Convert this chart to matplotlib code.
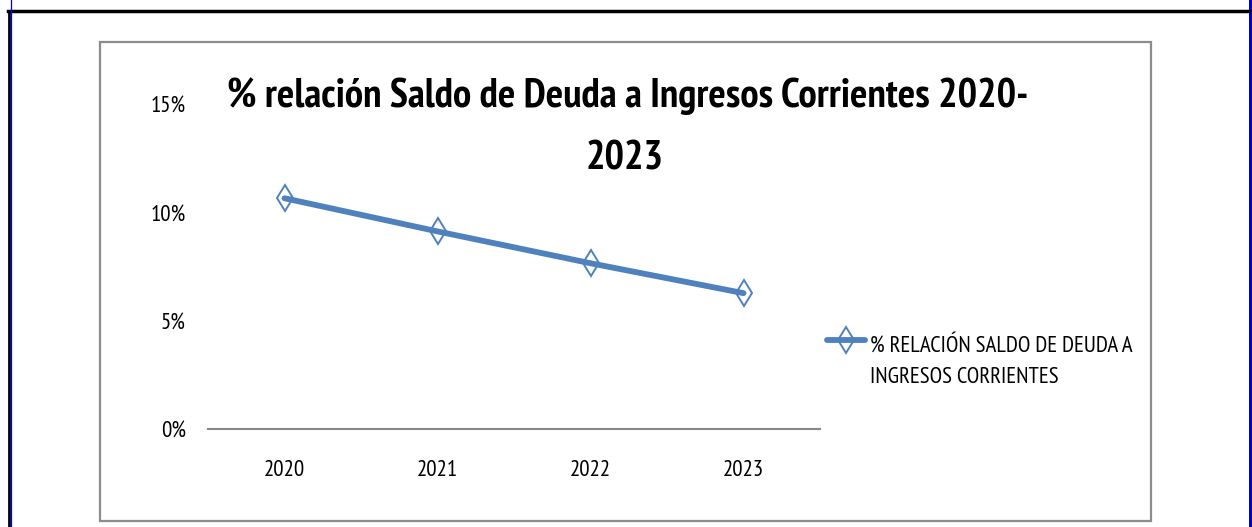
import matplotlib
matplotlib.use("Agg")
import matplotlib.pyplot as plt
from matplotlib.lines import Line2D
from matplotlib.patches import Rectangle

# data
years = ["2020", "2021", "2022", "2023"]
ratio = [0.1065, 0.0912, 0.0765, 0.0627]
y_ticks = [0.0, 0.05, 0.10, 0.15]
y_labels = ["0%", "5%", "10%", "15%"]
series_lines = ["% RELACIÓN SALDO DE DEUDA A", "INGRESOS CORRIENTES"]
title_lines = ["% relación Saldo de Deuda a Ingresos Corrientes 2020-", "2023"]

plt.rcParams["font.family"] = ["PT Sans Narrow", "DejaVu Sans"]

W, H = 1252, 527
fig = plt.figure(figsize=(W / 100, H / 100), dpi=100, facecolor="w")


def fx(px):
    return px / W


def fy(py):
    return 1 - py / H


# outer frame (cropped screenshot edges)
fig.add_artist(Line2D([fx(8), fx(1249)], [fy(11), fy(11)], color="black", lw=2.5))
fig.add_artist(Line2D([fx(9), fx(9)], [fy(11), 0], color="black", lw=2))
fig.add_artist(Line2D([fx(10.5), fx(10.5)], [1, 0], color="#0000ee", lw=0.9))
fig.add_artist(Rectangle((fx(1249), 0), fx(3), 1, color="#0000cc", lw=0))

# chart area box
fig.add_artist(Rectangle((fx(100), fy(521)), fx(1051), fy(42) - fy(521),
                         fill=False, ec="#8c8c8c", lw=1.6))

color = "#4f81bd"
ax = fig.add_axes([fx(208), fy(429), fx(820 - 208), fy(104) - fy(429)])
x = list(range(len(years)))
ax.plot(x, ratio, color=color, lw=4.2, marker="d", markersize=13,
        markerfacecolor="none", markeredgecolor=color, markeredgewidth=1.4,
        solid_capstyle="round")
ax.set_xlim(-0.5, len(years) - 0.5)
ax.set_ylim(0, 0.15)
ax.set_xticks(x)
ax.set_xticklabels(years, fontsize=16.5)
ax.set_yticks(y_ticks)
ax.set_yticklabels(y_labels, fontsize=16.5)
ax.tick_params(axis="x", length=0, pad=22)
ax.tick_params(axis="y", length=0, pad=16)
for spine in ("top", "right", "left"):
    ax.spines[spine].set_visible(False)
ax.spines["bottom"].set_color("#868686")
ax.spines["bottom"].set_linewidth(1.5)
ax.patch.set_alpha(0)

fig.text(fx(628), fy(107), title_lines[0], ha="center", va="baseline", fontsize=29.5,
         fontweight="bold")
fig.text(fx(625), fy(170), title_lines[1], ha="center", va="baseline", fontsize=29.5,
         fontweight="bold")

# legend entry
fig.add_artist(Line2D([fx(827), fx(865)], [fy(340), fy(340)], color=color, lw=4.2,
                      solid_capstyle="round"))
fig.add_artist(Line2D([fx(846)], [fy(340)], color=color, marker="d", markersize=13,
                      markerfacecolor="none", markeredgewidth=1.4))
fig.text(fx(870), fy(352), series_lines[0], ha="left", va="baseline", fontsize=16.5)
fig.text(fx(870), fy(383), series_lines[1], ha="left", va="baseline", fontsize=16.5)

fig.savefig("out.png", dpi=100, facecolor="w")
